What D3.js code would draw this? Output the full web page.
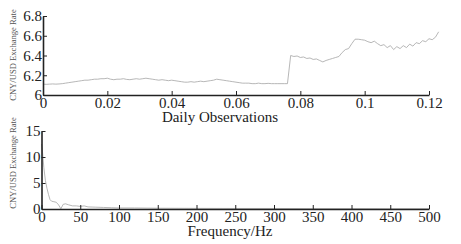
<!DOCTYPE html>
<html lang="en">
<head>
<meta charset="utf-8">
<title>CNY/USD</title>
<script src="https://cdnjs.cloudflare.com/ajax/libs/d3/7.8.5/d3.min.js"></script>
<style>
  body { margin: 0; background: #fff; }
  text { font-family: "Liberation Serif", "Times New Roman", serif; }
</style>
</head>
<body>
<script>
// daily observations (one value per 0.001 step)
var obsStep = 0.001;
var obsRate = [
  6.110, 6.108, 6.110, 6.112, 6.110, 6.112, 6.115, 6.120,
  6.125, 6.130, 6.135, 6.140, 6.145, 6.150, 6.150, 6.155,
  6.160, 6.160, 6.165, 6.165, 6.170, 6.160, 6.155, 6.160,
  6.160, 6.165, 6.158, 6.155, 6.160, 6.165, 6.160, 6.165,
  6.170, 6.165, 6.160, 6.155, 6.150, 6.155, 6.150, 6.145,
  6.150, 6.145, 6.140, 6.135, 6.130, 6.130, 6.135, 6.130,
  6.135, 6.140, 6.135, 6.140, 6.145, 6.150, 6.160, 6.155,
  6.150, 6.145, 6.140, 6.135, 6.130, 6.125, 6.120, 6.120,
  6.120, 6.115, 6.115, 6.120, 6.115, 6.115, 6.118, 6.115,
  6.115, 6.115, 6.115, 6.115, 6.115,
  6.400, 6.390, 6.395, 6.380, 6.385, 6.370, 6.375, 6.360,
  6.365, 6.350, 6.335, 6.350, 6.360, 6.370, 6.380, 6.390,
  6.430, 6.460, 6.470, 6.520, 6.565, 6.565, 6.560,
  6.555, 6.540, 6.530, 6.545, 6.520, 6.500, 6.510, 6.480,
  6.500, 6.460, 6.490, 6.470, 6.500, 6.480, 6.515, 6.495,
  6.530, 6.520, 6.550, 6.540, 6.570, 6.560, 6.585, 6.640
];
var obsTicks = [0, 0.02, 0.04, 0.06, 0.08, 0.1, 0.12];
var rateTicks = [6, 6.2, 6.4, 6.6, 6.8];

// spectrum
var freq = [0, 1, 3, 5, 7, 9, 11, 13, 16, 19, 22, 25, 28, 31, 35, 40, 45, 50, 55, 60,
            70, 80, 90, 100, 120, 150, 200, 250, 300, 350, 400, 450, 500];
var amp  = [12.5, 11.5, 8, 5.5, 4, 2.8, 1.8, 1.5, 1.4, 1.3, 0.8, 0.05, 0.9, 1.0, 0.8, 0.6,
            0.6, 0.5, 0.6, 0.4, 0.35, 0.3, 0.25, 0.2, 0.2, 0.15, 0.12, 0.1, 0.1, 0.08, 0.08, 0.06, 0.06];
var freqTicks = [0, 50, 100, 150, 200, 250, 300, 350, 400, 450, 500];
var ampTicks = [0, 5, 10, 15];

var svg = d3.select("body").append("svg")
    .attr("width", 461)
    .attr("height", 244);

function panel(opt) {
  var x = d3.scaleLinear().domain(opt.xDomain).range([opt.left, opt.right]);
  var y = d3.scaleLinear().domain(opt.yDomain).range([opt.bottom, opt.top]);

  // data line
  svg.append("path")
     .datum(opt.data)
     .attr("fill", "none")
     .attr("stroke", "#a4a4a4")
     .attr("stroke-width", 0.8)
     .attr("d", d3.line().x(function(d) { return x(d[0]); }).y(function(d) { return y(d[1]); }));

  // x axis, ticks pointing in
  var xa = svg.append("g")
     .attr("transform", "translate(0," + opt.bottom + ")")
     .call(d3.axisBottom(x).tickValues(opt.xTicks).tickSize(-4).tickSizeOuter(0).tickPadding(2)
            .tickFormat(function(d) { return d3.format("")(+d.toFixed(3)); }));
  // y axis
  var ya = svg.append("g")
     .attr("transform", "translate(" + opt.left + ",0)")
     .call(d3.axisLeft(y).tickValues(opt.yTicks).tickSize(-4).tickSizeOuter(0).tickPadding(1)
            .tickFormat(function(d) { return d3.format("")(+d.toFixed(1)); }));

  [xa, ya].forEach(function(g) {
    g.select(".domain").attr("stroke", "#222").attr("stroke-width", 1.6);
    g.selectAll(".tick line").attr("stroke", "#222").attr("stroke-width", 1);
    g.selectAll(".tick text").attr("fill", "#222").style("font-size", "15px")
     .style("font-family", "'Liberation Serif', serif");
  });

  svg.append("text")
     .attr("x", opt.xLabelX)
     .attr("y", opt.xLabelY)
     .attr("text-anchor", "middle")
     .attr("fill", "#222")
     .style("font-size", "15px")
     .text(opt.xLabel);

  svg.append("text")
     .attr("transform", "translate(" + 16 + "," + opt.yLabelY + ") rotate(-90)")
     .attr("text-anchor", "middle")
     .attr("fill", "#555")
     .style("font-size", "8.6px")
     .text("CNY/USD Exchange Rate");
}

panel({
  data: obsRate.map(function(v, i) { return [i * obsStep, v]; }),
  xDomain: [0, 0.12], yDomain: [6, 6.8],
  left: 43, right: 429, top: 16, bottom: 95,
  xTicks: obsTicks, yTicks: rateTicks,
  xLabel: "Daily Observations", xLabelX: 220, xLabelY: 122, yLabelY: 55
});

panel({
  data: freq.map(function(f, i) { return [f, amp[i]]; }),
  xDomain: [0, 500], yDomain: [0, 15],
  left: 41.5, right: 429, top: 131, bottom: 209,
  xTicks: freqTicks, yTicks: ampTicks,
  xLabel: "Frequency/Hz", xLabelX: 230, xLabelY: 236, yLabelY: 163
});
</script>
</body>
</html>
